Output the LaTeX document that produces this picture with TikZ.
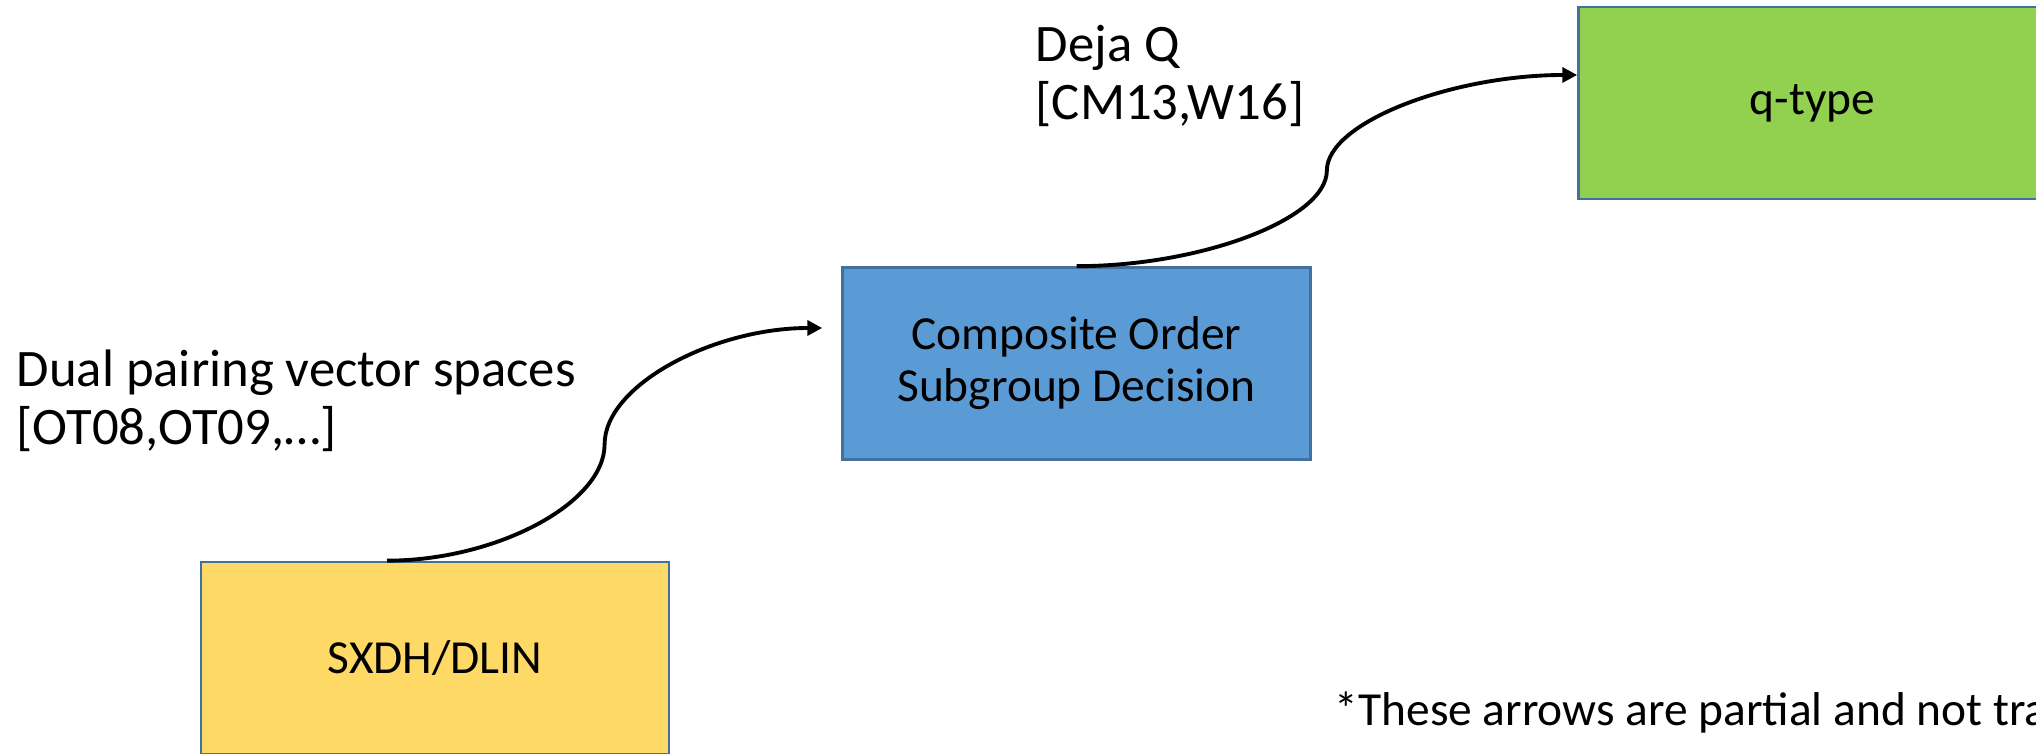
\documentclass[tikz,border=0pt]{standalone}
\usepackage{fontspec}
\setmainfont{Carlito}
\usepackage{tikz}
\usetikzlibrary{arrows.meta,calc}
\definecolor{boxLine}{HTML}{41719C}
\definecolor{sxdhFill}{HTML}{FFD966}
\definecolor{compFill}{HTML}{5B9BD5}
\definecolor{qFill}{HTML}{92D050}
\newcommand{\boxWidth}{4.68cm}
\newcommand{\boxHeight}{1.92cm}

\begin{document}
\begin{tikzpicture}[assumption/.style={draw=boxLine, line width=0.75pt, minimum width=\boxWidth, minimum height=\boxHeight, inner sep=0pt, align=center, font=\fontsize{13.5}{14.8}\selectfont},
	cite/.style={anchor=west, inner sep=0pt, align=left, font=\fontsize{15}{16.5}\selectfont},
	implies/.style={line width=1.1pt, -{Triangle[length=4.2pt,width=4.2pt]}}]
		\useasboundingbox (0,0) rectangle (20.36,7.54);
		\clip (0,0) rectangle (20.36,7.54);
		%assumptions
		\node[assumption, fill=sxdhFill] (sxdh) at (4.35,0.96) {SXDH/DLIN};
		\node[assumption, fill=compFill] (composite) at (10.765,3.905) {Composite Order\\Subgroup Decision};
		\node[assumption, fill=qFill] (qtype) at (18.125,6.51) {q-type};
		%labels
		\node[cite] (dualLabel) at (0.16,3.53) {Dual pairing vector spaces\\{}[OT08,OT09,…]};
		\node[cite] (dejaLabel) at (10.35,6.785) {Deja Q\\{}[CM13,W16]};
		\node[anchor=west, inner sep=0pt, font=\fontsize{13.5}{14.8}\selectfont] (footNote) at (13.34,0.42) {*These arrows are partial and not tra};
		%implications
		\coordinate (dualStart) at ([xshift=-0.48cm]sxdh.north);
		\coordinate (dualEnd) at ([shift={(-0.19,0.355)}]composite.west);
		\coordinate (dualMid) at ($(dualStart)!0.5!(dualEnd)$);
		\draw[implies] (dualStart) .. controls +(1.09,0) and +(0,-0.59) .. (dualMid)
			.. controls +(0,0.59) and +(-1.09,0) .. (dualEnd);
		\coordinate (dejaEnd) at ([yshift=0.28cm]qtype.west);
		\coordinate (dejaMid) at ($(composite.north)!0.5!(dejaEnd)$);
		\draw[implies] (composite.north) .. controls +(1.255,0) and +(0,-0.48) .. (dejaMid)
			.. controls +(0,0.48) and +(-1.255,0) .. (dejaEnd);
	\end{tikzpicture}
\end{document}
